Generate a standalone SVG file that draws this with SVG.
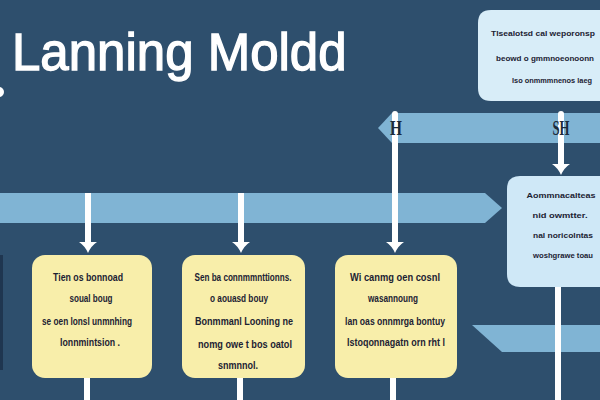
<svg xmlns="http://www.w3.org/2000/svg" width="600" height="400" viewBox="0 0 600 400">
<style>
.bg{fill:#2e4f6d}
.band{fill:#80b4d4}
.yellow{fill:#f8eeaa}
.blue{fill:#cfe8f7}
.bluetop{fill:#d8edf8}
.t{font-family:"Liberation Sans",Arial,sans-serif;font-size:10px;font-weight:bold;fill:#1c2233;text-anchor:middle}
.ts{font-size:8px}
.lbl{font-family:"Liberation Serif","Times New Roman",serif;font-size:22px;font-weight:bold;fill:#1b2a3a;text-anchor:middle}
.conn{stroke:#ffffff;stroke-width:6;fill:none}
.title{font-family:"Liberation Sans",Arial,sans-serif;font-size:51px;fill:#ffffff;stroke:#ffffff;stroke-width:1.3}
</style>
<defs>
<marker id="ah" markerUnits="userSpaceOnUse" markerWidth="20" markerHeight="20" refX="0" refY="0" orient="auto" overflow="visible">
<path d="M-1,-9 Q3,-3 10,0 Q3,3 -1,9 Z" fill="#ffffff"/>
</marker>
</defs>
<rect class="bg" x="0" y="0" width="600" height="400"/>
<circle cx="-1" cy="92" r="5" fill="#ffffff"/>
<rect x="0" y="255" width="3" height="115" fill="#1f3650"/>

<g id="title"><text class="title" x="12" y="70">Lanning Moldd</text></g>

<g id="band-top"><polygon class="band" points="392,113 600,113 600,143 392,143 378,128"/></g>
<g id="band-mid"><polygon class="band" points="0,193 485,193 502,208 485,223 0,223"/></g>
<g id="band-bottom"><polygon class="band" points="472,325 600,325 600,352 502,352"/></g>

<g id="connectors">
<line class="conn" x1="87" y1="378" x2="87" y2="400"/>
<line class="conn" x1="240" y1="378" x2="240" y2="400"/>
<line class="conn" x1="393" y1="378" x2="393" y2="400"/>
<line class="conn" x1="558" y1="287" x2="558" y2="400"/>
<line class="conn" x1="88" y1="193" x2="88" y2="243" marker-end="url(#ah)"/>
<line class="conn" x1="241" y1="193" x2="241" y2="243" marker-end="url(#ah)"/>
<line class="conn" x1="395" y1="114" x2="395" y2="243" stroke-linecap="round" marker-end="url(#ah)"/>
<line class="conn" x1="561" y1="114" x2="561" y2="165" stroke-linecap="round" marker-end="url(#ah)"/>
</g>

<text class="lbl" x="396" y="135" textLength="12" lengthAdjust="spacingAndGlyphs">H</text>
<text class="lbl" x="561" y="135" textLength="17" lengthAdjust="spacingAndGlyphs">SH</text>

<g id="box-top-right">
<path class="bluetop" d="M491,10 H600 V101 H491 Q478,101 478,88 V23 Q478,10 491,10 Z"/>
<text class="t ts" x="543" y="36" textLength="104" lengthAdjust="spacingAndGlyphs">Tlsealotsd cal weporonsp</text>
<text class="t ts" x="545" y="61" textLength="98" lengthAdjust="spacingAndGlyphs">beowd o gmmnoeonoonn</text>
<text class="t ts" x="552" y="83" textLength="80" lengthAdjust="spacingAndGlyphs">lso onmmmnenos laeg</text>
</g>

<g id="box-right">
<path class="blue" d="M520,176 H600 V287 H520 Q507,287 507,274 V189 Q507,176 520,176 Z"/>
<text class="t ts" x="561" y="198" textLength="69" lengthAdjust="spacingAndGlyphs">Aommnacalteas</text>
<text class="t ts" x="560" y="218" textLength="55" lengthAdjust="spacingAndGlyphs">nid owmtter.</text>
<text class="t ts" x="563" y="238" textLength="60" lengthAdjust="spacingAndGlyphs">nal noricolntas</text>
<text class="t ts" x="563" y="258" textLength="60" lengthAdjust="spacingAndGlyphs">woshgrawe toau</text>
</g>

<g id="box-1">
<rect class="yellow" x="32" y="255" width="120" height="123" rx="13"/>
<text class="t" x="88" y="281" textLength="70" lengthAdjust="spacingAndGlyphs">Tien os bonnoad</text>
<text class="t" x="91" y="302" textLength="43" lengthAdjust="spacingAndGlyphs">soual boug</text>
<text class="t" x="87" y="325" textLength="90" lengthAdjust="spacingAndGlyphs">se oen lonsl unmnhing</text>
<text class="t" x="90" y="346" textLength="60" lengthAdjust="spacingAndGlyphs">lonnmintsion .</text>
</g>

<g id="box-2">
<rect class="yellow" x="182" y="255" width="123" height="123" rx="13"/>
<text class="t" x="243" y="281" textLength="97" lengthAdjust="spacingAndGlyphs">Sen ba connmmnttionns.</text>
<text class="t" x="239" y="302" textLength="58" lengthAdjust="spacingAndGlyphs">o aouasd bouy</text>
<text class="t" x="244" y="325" textLength="98" lengthAdjust="spacingAndGlyphs">Bonmmanl Looning ne</text>
<text class="t" x="245" y="348" textLength="94" lengthAdjust="spacingAndGlyphs">nomg owe t bos oatol</text>
<text class="t" x="238" y="369" textLength="40" lengthAdjust="spacingAndGlyphs">snmnnol.</text>
</g>

<g id="box-3">
<rect class="yellow" x="335" y="255" width="122" height="123" rx="13"/>
<text class="t" x="395" y="281" textLength="90" lengthAdjust="spacingAndGlyphs">Wi canmg oen cosnl</text>
<text class="t" x="393" y="302" textLength="50" lengthAdjust="spacingAndGlyphs">wasannoung</text>
<text class="t" x="395" y="325" textLength="100" lengthAdjust="spacingAndGlyphs">lan oas onnmrga bontuy</text>
<text class="t" x="396" y="346" textLength="98" lengthAdjust="spacingAndGlyphs">Istoqonnagatn orn rht l</text>
</g>
</svg>
